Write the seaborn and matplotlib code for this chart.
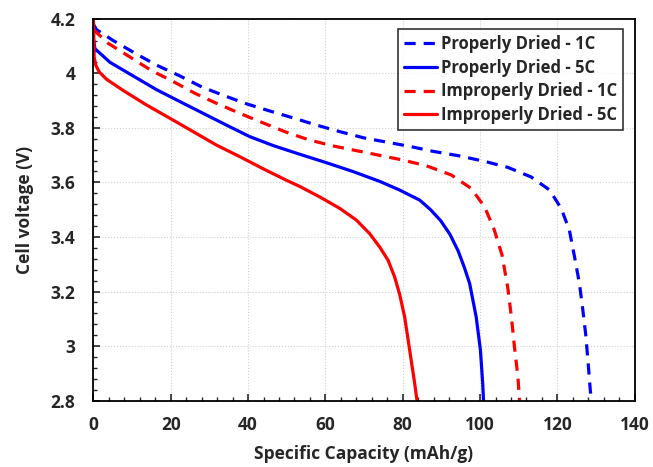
import pandas as pd
import matplotlib
matplotlib.use('Agg')
import matplotlib.pyplot as plt
from matplotlib.ticker import MultipleLocator, FormatStrFormatter
import seaborn as sns

# Discharge curves
pd_1c_cap = [0, 0.8, 5.1, 11.2, 16.3, 22.4, 28, 34, 39.6, 46, 52, 57.7, 64, 70, 81.8, 87.8, 94.7,
             101.2, 107.2, 113.2, 118, 121, 123.1, 124.4, 125.7, 126.6, 127.3, 127.9, 128.5, 128.8]
pd_1c_v = [4.18, 4.16, 4.12, 4.07, 4.03, 3.99, 3.95, 3.917, 3.888, 3.86, 3.835, 3.81, 3.785, 3.763, 3.732, 3.714, 3.697,
           3.677, 3.655, 3.62, 3.572, 3.504, 3.425, 3.33, 3.23, 3.13, 3.046, 2.948, 2.84, 2.80]

pd_5c_cap = [0, 0.4, 4.3, 10.3, 16.3, 22.4, 28.4, 34.4, 40.4, 46.5, 53.4, 60.3, 67.1, 74, 79.2,
             84.4, 87.2, 89.8, 92.2, 94.3, 95.9, 97.3, 99, 100.1, 100.7, 100.9]
pd_5c_v = [4.13, 4.09, 4.04, 3.99, 3.94, 3.896, 3.853, 3.81, 3.768, 3.735, 3.703, 3.672, 3.64, 3.604, 3.572,
           3.535, 3.5, 3.46, 3.41, 3.35, 3.29, 3.23, 3.107, 2.985, 2.86, 2.80]

ip_1c_cap = [0, 3.8, 9.4, 15, 20.6, 26.2, 31.8, 37.9, 43.9, 49.5, 55.5, 61.5, 68.5, 80, 86.1, 92.6,
             97.7, 101.2, 103.7, 105.7, 107.2, 108.1, 108.9, 109.8, 110.2]
ip_1c_v = [4.16, 4.11, 4.06, 4.01, 3.97, 3.927, 3.89, 3.853, 3.818, 3.786, 3.757, 3.735, 3.715, 3.682, 3.661, 3.627,
           3.578, 3.51, 3.425, 3.333, 3.211, 3.107, 2.997, 2.887, 2.80]

ip_5c_cap = [0, 0.2, 0.6, 1.5, 3.4, 7.7, 13.7, 19.8, 25.8, 31.8, 37.9, 43.9, 49.9, 53.4, 58.5, 63.7, 68,
             71.4, 74, 76.2, 77.9, 79.2, 80.5, 81.8, 83.1, 83.7]
ip_5c_v = [4.20, 4.06, 4.03, 4.005, 3.978, 3.937, 3.884, 3.835, 3.786, 3.737, 3.694, 3.65, 3.608, 3.585, 3.547, 3.505, 3.462,
           3.413, 3.364, 3.315, 3.254, 3.19, 3.107, 2.985, 2.863, 2.80]

labels = ['Properly Dried - 1C', 'Properly Dried - 5C', 'Improperly Dried - 1C', 'Improperly Dried - 5C']

frames = []
for lab, cap, v in zip(labels, [pd_1c_cap, pd_5c_cap, ip_1c_cap, ip_5c_cap],
                       [pd_1c_v, pd_5c_v, ip_1c_v, ip_5c_v]):
    frames.append(pd.DataFrame({'Capacity': cap, 'Voltage': v, 'Series': lab}))
df = pd.concat(frames, ignore_index=True)

sns.set_style('white')
plt.rcParams['font.family'] = ['Open Sans', 'DejaVu Sans']
plt.rcParams['font.weight'] = 'bold'

fig = plt.figure(figsize=(6.53, 4.67), dpi=100)
ax = fig.add_axes([0.143, 0.142, 0.829, 0.818])

palette = {labels[0]: '#0000ff', labels[1]: '#0000ff', labels[2]: '#ff0000', labels[3]: '#ff0000'}
dashes = {labels[0]: (3.5, 2.5), labels[1]: '', labels[2]: (3.5, 2.5), labels[3]: ''}
sns.lineplot(data=df, x='Capacity', y='Voltage', hue='Series', style='Series',
             palette=palette, dashes=dashes, sort=False, estimator=None,
             linewidth=2.3, ax=ax)

ax.set_xlim(0, 140)
ax.set_ylim(2.8, 4.2)
ax.xaxis.set_major_locator(MultipleLocator(20))
ax.xaxis.set_minor_locator(MultipleLocator(4))
ax.yaxis.set_major_locator(MultipleLocator(0.2))
ax.yaxis.set_minor_locator(MultipleLocator(0.04))
ax.yaxis.set_major_formatter(FormatStrFormatter('%g'))
ax.tick_params(which='major', direction='in', length=5, width=1.2, labelsize=12.5,
               bottom=True, left=True, top=False, right=False)
ax.tick_params(axis='x', which='major', pad=11)
ax.tick_params(axis='y', which='major', pad=13)
ax.tick_params(which='minor', direction='in', length=3, width=1.0,
               bottom=True, left=True, top=False, right=False)
for lbl in ax.get_xticklabels() + ax.get_yticklabels():
    lbl.set_fontweight('bold')
ax.grid(True, which='major', linestyle=':', color='#d0d0d0', linewidth=0.8)
for s in ax.spines.values():
    s.set_visible(True)
    s.set_color('black')
    s.set_linewidth(1.3)

ax.set_xlabel('Specific Capacity (mAh/g)', fontsize=12.5, fontweight='bold', labelpad=8)
ax.set_ylabel('Cell voltage (V)', fontsize=12.5, fontweight='bold', labelpad=12)

leg = ax.legend(title=None, loc='upper right', bbox_to_anchor=(0.993, 0.995), fontsize=12,
                frameon=True, fancybox=False, edgecolor='black', handlelength=2.0,
                handletextpad=0.2, borderpad=0.35, labelspacing=0.35)
leg.get_frame().set_linewidth(1.2)
for t in leg.get_texts():
    t.set_fontweight('bold')

fig.savefig('out.png', dpi=100)
